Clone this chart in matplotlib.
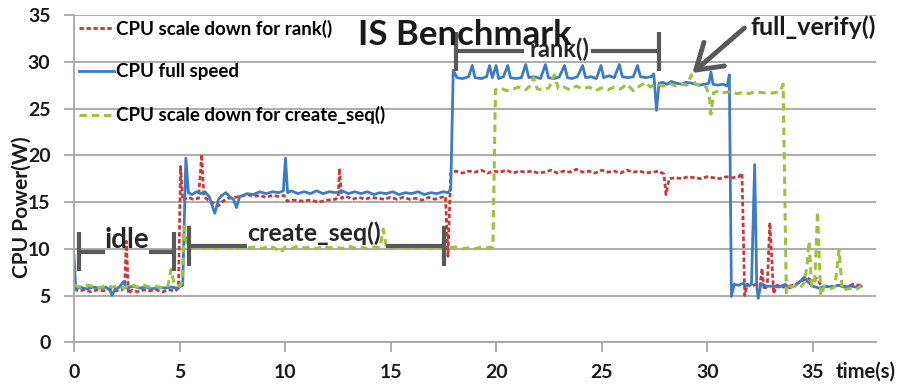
import matplotlib

matplotlib.use("Agg")
import matplotlib.pyplot as plt
from matplotlib.transforms import blended_transform_factory

plt.rcParams["font.family"] = ["Lato", "DejaVu Sans"]
plt.rcParams["font.weight"] = "bold"

# CPU scale down for rank()
red_t = [0.0, 0.2, 0.5, 0.8, 1.1, 1.4, 1.7, 2.0, 2.25, 2.4, 2.48, 2.58, 2.75, 3.0, 3.3, 3.6, 3.9,
         4.2, 4.5, 4.8, 4.95, 5.05, 5.15, 5.4, 5.65, 5.9, 6.05, 6.15, 6.35, 6.6, 6.85, 7.0, 7.3,
         7.6, 7.9, 8.2, 8.5, 8.8, 9.1, 9.4, 9.7, 9.95, 10.1, 10.4, 10.8, 11.2, 11.6, 12.0, 12.4,
         12.52, 12.58, 12.68, 12.9, 13.2, 13.5, 13.8, 14.1, 14.4, 14.7, 15.0, 15.3, 15.6, 15.9,
         16.2, 16.5, 16.8, 17.1, 17.4, 17.6, 17.72, 17.85, 18.1, 18.4, 18.7, 19.0, 19.3, 19.6,
         19.9, 20.2, 20.5, 20.8, 21.1, 21.4, 21.7, 22.0, 22.3, 22.6, 22.9, 23.2, 23.5, 23.8,
         24.1, 24.4, 24.7, 25.0, 25.3, 25.6, 25.9, 26.2, 26.5, 26.8, 27.1, 27.4, 27.7, 27.95,
         28.05, 28.2, 28.5, 28.8, 29.1, 29.4, 29.7, 30.0, 30.3, 30.6, 30.9, 31.2, 31.5, 31.65,
         31.78, 31.9, 32.1, 32.3, 32.5, 32.6, 32.7, 32.85, 32.97, 33.15, 33.3, 33.6, 33.9, 34.2,
         34.5, 34.75, 35.0, 35.2, 35.4, 35.7, 36.0, 36.3, 36.6, 36.9, 37.2, 37.3]
red_w = [5.7, 5.5, 5.6, 5.4, 5.6, 5.5, 5.7, 5.5, 5.6, 6.0, 10.8, 5.2, 5.6, 5.4, 5.6, 5.5, 5.6,
         5.4, 5.6, 5.5, 5.8, 18.8, 15.2, 15.5, 15.3, 15.4, 20.1, 15.6, 15.2, 14.9, 14.6, 15.0, 15.4,
         15.5, 15.6, 15.8, 15.6, 15.7, 15.5, 15.7, 15.6, 15.7, 15.1, 15.2, 15.1, 15.2, 15.0, 15.2, 15.3,
         15.6, 18.6, 15.4, 15.6, 15.3, 15.5, 15.3, 15.5, 15.4, 15.3, 15.5, 15.3, 15.5, 15.3,
         15.4, 15.2, 15.5, 15.3, 15.5, 15.6, 9.2, 18.1, 18.3, 18.1, 18.3, 18.2, 18.4, 18.1,
         18.3, 18.2, 18.4, 18.1, 18.3, 18.2, 18.3, 18.1, 18.2, 18.4, 18.1, 18.3, 18.2, 18.5,
         18.2, 18.3, 18.1, 18.4, 18.2, 18.3, 18.1, 18.4, 18.2, 18.3, 18.1, 18.2, 18.3, 18.0,
         15.8, 17.5, 17.6, 17.5, 17.7, 17.6, 17.5, 17.7, 17.6, 17.5, 17.7, 17.6, 17.7, 18.1,
         5.0, 6.2, 6.0, 6.2, 6.0, 7.9, 5.6, 6.1, 12.8, 5.2, 6.1, 5.9, 6.0, 6.2,
         6.6, 6.9, 6.5, 6.8, 6.1, 5.9, 6.0, 6.1, 5.9, 6.2, 6.1, 6.0]

# CPU full speed
blue_t = [0.0, 0.08, 0.3, 0.6, 0.9, 1.2, 1.5, 1.7, 1.8, 1.95, 2.15, 2.35, 2.5, 2.8, 3.1, 3.4, 3.7,
          4.0, 4.3, 4.6, 4.9, 5.15, 5.3, 5.42, 5.6, 5.8, 6.0, 6.2, 6.4, 6.55, 6.67, 6.85, 7.0,
          7.2, 7.4, 7.55, 7.7, 7.85, 8.0, 8.2, 8.5, 8.8, 9.1, 9.4, 9.7, 9.92, 10.02, 10.12, 10.3,
          10.6, 10.9, 11.2, 11.5, 11.8, 12.1, 12.4, 12.7, 13.0, 13.3, 13.6, 13.9, 14.2, 14.5,
          14.8, 15.1, 15.4, 15.7, 16.0, 16.3, 16.6, 16.9, 17.2, 17.5, 17.7, 17.85, 17.97, 18.15,
          18.4, 18.7, 18.87, 19.0, 19.3, 19.55, 19.69, 19.82, 20.0, 20.12, 20.35, 20.55, 20.68,
          20.95, 21.2, 21.4, 21.55, 21.8, 22.1, 22.34, 22.48, 22.75, 23.0, 23.24, 23.38, 23.6,
          23.85, 24.1, 24.24, 24.5, 24.75, 24.97, 25.1, 25.35, 25.6, 25.84, 25.98, 26.25, 26.5,
          26.7, 26.84, 27.1, 27.35, 27.47, 27.6, 27.72, 27.9, 28.1, 28.3, 28.55, 28.8, 29.0,
          29.3, 29.6, 29.9, 30.08, 30.18, 30.28, 30.5, 30.75, 30.95, 31.05, 31.15, 31.28, 31.5,
          31.7, 31.9, 32.1, 32.25, 32.35, 32.42, 32.55, 32.8, 33.1, 33.4, 33.7, 33.9, 34.2,
          34.45, 34.6, 34.75, 35.0, 35.3, 35.6, 35.9, 36.2, 36.5, 36.8, 37.1, 37.3]
blue_w = [9.3, 5.7, 5.9, 5.7, 5.9, 5.8, 5.9, 5.6, 5.0, 5.7, 5.9, 6.5, 5.8, 6.0, 5.8, 5.9, 5.7,
          5.9, 5.8, 5.9, 5.8, 6.1, 19.7, 16.0, 15.8, 16.1, 15.9, 16.1, 15.6, 14.6, 13.8, 15.3, 15.7,
          16.0, 15.5, 15.3, 14.4, 15.6, 15.7, 15.9, 15.8, 16.1, 15.9, 16.1, 16.0, 16.2, 19.7, 16.0, 16.2,
          15.9, 16.1, 15.9, 16.2, 15.9, 16.1, 16.0, 16.2, 15.9, 16.1, 15.9, 16.1, 15.8, 16.0,
          15.9, 16.1, 15.8, 16.0, 15.9, 16.1, 15.8, 16.0, 15.9, 16.1, 16.0, 16.3, 29.1, 28.3,
          28.2, 28.4, 29.6, 28.3, 28.2, 28.4, 29.6, 28.3, 29.6, 28.2, 28.4, 29.6, 28.3,
          28.2, 28.3, 29.7, 28.3, 28.4, 28.2, 29.7, 28.3, 28.2, 28.4, 29.6, 28.3, 28.2,
          28.4, 29.6, 28.3, 28.4, 28.2, 29.6, 28.3, 28.5, 28.3, 29.7, 28.4, 28.3, 28.4,
          29.6, 28.4, 28.3, 28.4, 28.7, 24.8, 27.7, 27.8, 27.6, 27.9, 27.7, 27.6, 27.8,
          27.7, 27.5, 27.6, 27.7, 28.9, 27.6, 27.5, 27.6, 27.4, 28.6, 4.9, 6.2, 6.1,
          6.3, 6.0, 6.2, 19.0, 6.0, 4.7, 6.3, 6.0, 6.0, 5.9, 6.2, 5.8, 6.1,
          6.6, 7.0, 6.5, 6.0, 5.8, 6.0, 5.9, 6.1, 5.9, 6.0, 5.9, 6.0]

# CPU scale down for create_seq()
green_t = [0.0, 0.3, 0.6, 0.9, 1.2, 1.5, 1.8, 2.1, 2.4, 2.7, 3.0, 3.3, 3.6, 3.9, 4.2, 4.45, 4.6,
           4.75, 5.0, 5.12, 5.22, 5.35, 5.6, 5.9, 6.2, 6.5, 6.8, 7.1, 7.4, 7.7, 8.0, 8.3, 8.6,
           8.9, 9.2, 9.5, 9.8, 10.0, 10.3, 10.6, 10.9, 11.2, 11.5, 11.8, 12.1, 12.4, 12.7, 13.0,
           13.3, 13.6, 13.9, 14.2, 14.5, 14.65, 14.8, 15.1, 15.4, 15.7, 16.0, 16.3, 16.6, 16.9,
           17.2, 17.5, 17.8, 18.1, 18.4, 18.7, 19.0, 19.3, 19.6, 19.85, 19.97, 20.2, 20.5, 20.8,
           21.1, 21.4, 21.6, 21.78, 21.95, 22.2, 22.5, 22.76, 22.95, 23.2, 23.5, 23.8, 24.1,
           24.4, 24.7, 25.0, 25.3, 25.6, 25.9, 26.2, 26.5, 26.8, 27.1, 27.3, 27.6, 27.9, 28.2,
           28.5, 28.8, 29.05, 29.25, 29.45, 29.7, 29.95, 30.1, 30.18, 30.3, 30.55, 30.8, 31.1,
           31.4, 31.7, 32.0, 32.3, 32.6, 32.9, 33.2, 33.45, 33.6, 33.75, 33.9, 34.15, 34.4,
           34.6, 34.72, 34.83, 34.95, 35.1, 35.23, 35.38, 35.55, 35.8, 36.05, 36.25, 36.4,
           36.65, 36.9, 37.1, 37.3]
green_w = [6.1, 5.9, 6.1, 6.0, 5.8, 6.1, 5.9, 6.0, 5.8, 6.2, 5.9, 6.1, 5.9, 6.0, 5.8, 6.0, 7.8,
           6.2, 6.0, 6.4, 12.4, 10.4, 10.1, 10.3, 10.0, 10.2, 10.0, 10.3, 10.1, 10.0, 10.3, 10.1, 10.2,
           10.0, 10.3, 10.1, 9.6, 10.2, 10.0, 10.3, 10.1, 10.2, 10.0, 10.3, 10.1, 10.2, 10.0, 10.3,
           10.1, 10.2, 10.0, 10.2, 10.1, 12.1, 10.2, 10.0, 10.2, 10.1, 10.0, 10.2, 10.1, 10.0,
           10.2, 10.0, 10.1, 10.2, 10.0, 10.1, 10.0, 10.2, 10.1, 10.2, 27.0, 27.2, 26.9, 27.1,
           27.3, 27.0, 27.4, 28.3, 27.1, 27.0, 27.2, 28.6, 27.1, 27.3, 27.0, 27.4, 27.1,
           27.3, 26.9, 27.2, 27.0, 27.3, 27.1, 27.6, 26.9, 27.4, 27.8, 27.3, 27.6, 27.4, 27.7,
           27.4, 27.6, 27.5, 28.6, 27.6, 27.5, 27.3, 26.4, 24.4, 26.7, 26.9, 26.7, 26.8,
           26.6, 26.7, 26.6, 26.8, 26.7, 26.6, 26.7, 26.8, 27.6, 5.3, 5.9, 6.0, 5.8,
           6.4, 8.0, 10.8, 6.0, 6.5, 14.0, 5.0, 6.0, 5.7, 5.9, 9.9, 5.6,
           5.7, 5.8, 5.7, 6.0]

x_ticks = [0, 5, 10, 15, 20, 25, 30, 35]
y_ticks = [0, 5, 10, 15, 20, 25, 30, 35]

# phase brackets: label, start, end, bracket level, label x, label baseline, font size, gap for label
phases = [
    ("idle", 0.25, 4.73, 9.7, 2.5, 10.1, 20, (1.45, 3.55)),
    ("create_seq()", 5.46, 17.53, 10.3, 11.36, 10.85, 18, (8.2, 14.8)),
    ("rank()", 18.1, 27.73, 31.1, 23.0, 30.55, 17, (21.34, 24.5)),
]

RED = "#C83A3A"
BLUE = "#3C7CC4"
GREEN = "#9CC23F"
GREY = "#A6A6A6"
DARK = "#595959"
INK = "#1a1a1a"

fig = plt.figure(figsize=(9.01, 3.85), dpi=100)
ax = fig.add_axes([74 / 901, 1 - 342.3 / 385, 802 / 901, 327.3 / 385])

ax.plot(red_t, red_w, color=RED, lw=2.0, dashes=(1.6, 0.9), label="CPU scale down for rank()")
ax.plot(blue_t, blue_w, color=BLUE, lw=2.0, label="CPU full speed")
ax.plot(green_t, green_w, color=GREEN, lw=2.2, dashes=(2.4, 1.6), label="CPU scale down for create_seq()")

ax.set_xlim(0, 38)
ax.set_ylim(0, 35)
ax.set_xticks(x_ticks)
ax.set_yticks(y_ticks)
ax.yaxis.grid(True, color=GREY, lw=1.3)
ax.set_axisbelow(True)
for side in ("top", "right"):
    ax.spines[side].set_visible(False)
for side in ("left", "bottom"):
    ax.spines[side].set_color(GREY)
    ax.spines[side].set_linewidth(1.3)
ax.tick_params(axis="x", direction="out", length=7, width=1.3, color=GREY, pad=8.5, labelsize=14)
ax.tick_params(axis="y", direction="out", length=7, width=1.3, color=GREY, pad=10, labelsize=14)
for lab in ax.get_xticklabels() + ax.get_yticklabels():
    lab.set_fontweight("bold")
    lab.set_color(INK)

trans = blended_transform_factory(ax.transData, ax.transAxes)
ax.text(37.5, -0.09, "time(s)", transform=trans, ha="center", va="center",
        fontsize=14.5, fontweight="bold", color=INK)
fig.text(21.5 / 901, 1 - 207 / 385, "CPU Power(W)", rotation=90, ha="center", va="center",
         fontsize=15, fontweight="bold", color=INK)

leg = ax.legend(loc="upper left", bbox_to_anchor=(0.0, 1.0), frameon=False, fontsize=13.5,
                labelspacing=1.37, handlelength=1.87, handletextpad=0.1, borderaxespad=0.0,
                borderpad=0.25)
for txt in leg.get_texts():
    txt.set_fontweight("bold")

# phase brackets
for name, start, end, level, xc, base, size, gap in phases:
    ax.plot([start, gap[0]], [level, level], color=DARK, lw=3, solid_capstyle="butt")
    ax.plot([gap[1], end], [level, level], color=DARK, lw=3, solid_capstyle="butt")
    for xe in (start, end):
        ax.plot([xe, xe], [level - 2.1, level + 2.1], color=DARK, lw=3, solid_capstyle="butt")
    ax.text(xc, base, name, ha="center", va="baseline", fontsize=size,
            fontweight="bold", color="#262626")

ax.text(13.44, 31.8, "IS Benchmark", ha="left", va="baseline", fontsize=25,
        fontweight="bold", color=INK)

ax.text(32.07, 32.9, "full_verify()", ha="left", va="baseline", fontsize=18,
        fontweight="bold", color=INK)
ax.annotate("", xy=(29.3, 28.8), xytext=(31.76, 33.6),
            arrowprops=dict(arrowstyle="->,head_length=0.7,head_width=0.45", color=DARK, lw=3.5,
                            mutation_scale=25, shrinkA=0, shrinkB=0))

fig.savefig("out.png", dpi=100)
